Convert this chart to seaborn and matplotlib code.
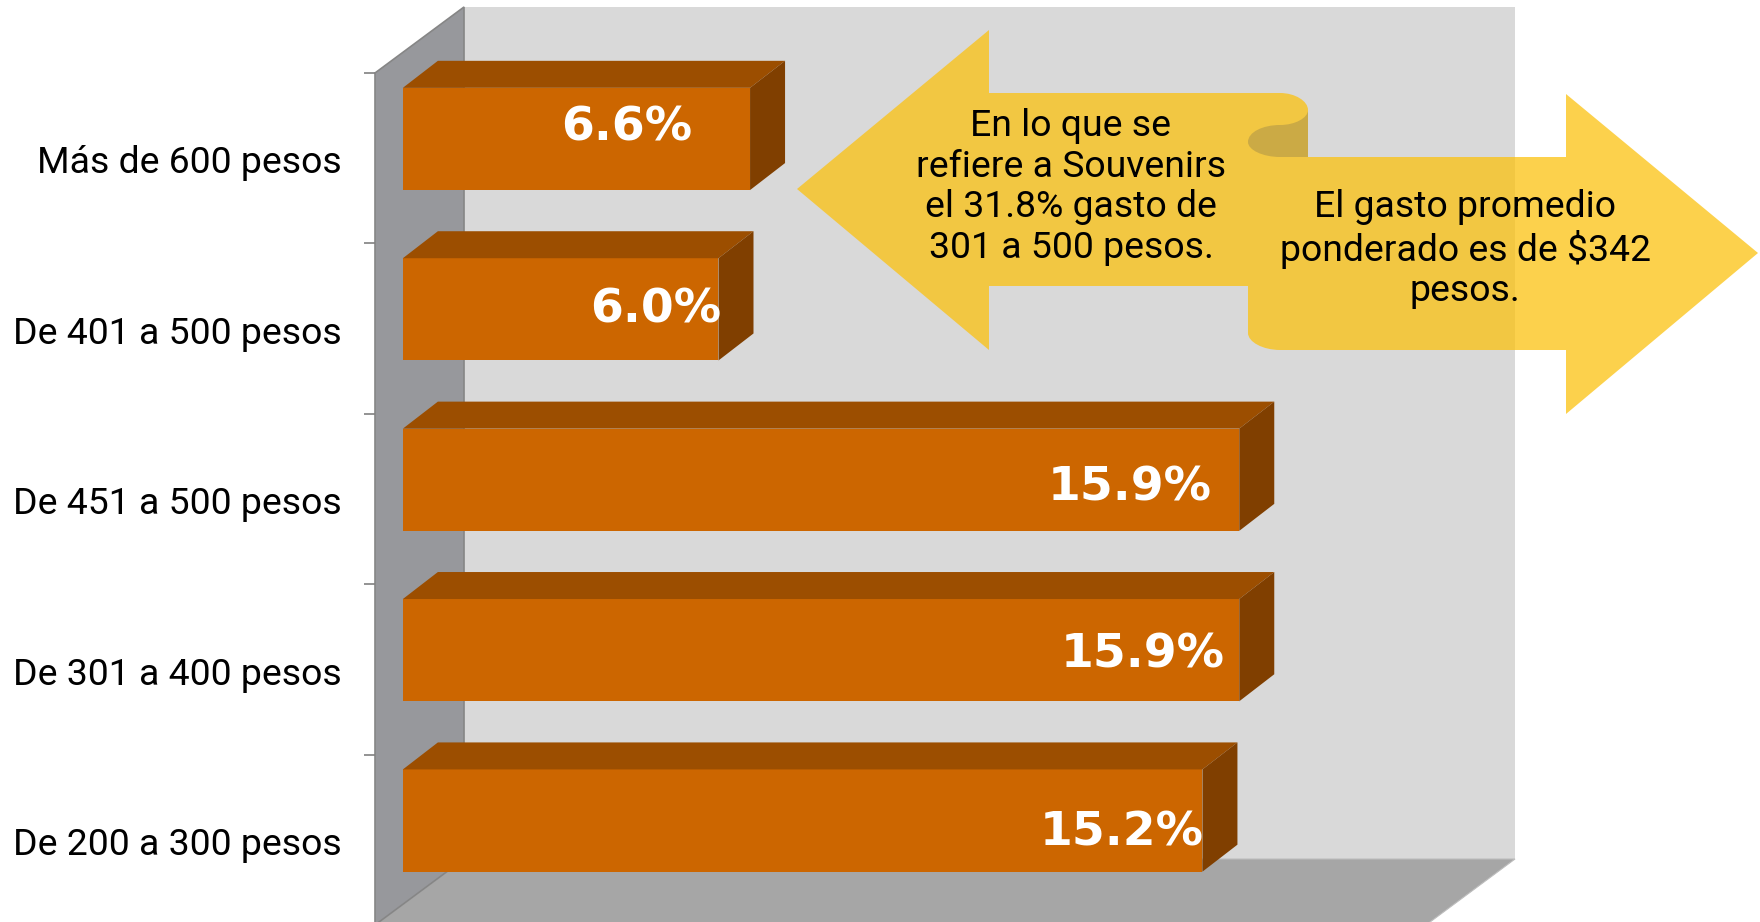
# -*- coding: utf-8 -*-
import matplotlib
matplotlib.use('Agg')
import matplotlib.pyplot as plt
from matplotlib.patches import Polygon, PathPatch
from matplotlib.path import Path
import pandas as pd
import seaborn as sns

categories = ['Más de 600 pesos', 'De 401 a 500 pesos', 'De 451 a 500 pesos',
              'De 301 a 400 pesos', 'De 200 a 300 pesos']
values = [6.6, 6.0, 15.9, 15.9, 15.2]
value_labels = ['6.6%', '6.0%', '15.9%', '15.9%', '15.2%']
note_left = 'En lo que se\nrefiere a Souvenirs\nel 31.8% gasto de\n301 a 500 pesos.'
note_right = 'El gasto promedio\nponderado es de $342\npesos.'

# desplazamiento de las etiquetas respecto al final de la barra (px, y hacia arriba)
label_offsets = [(-123, 11), (-63, -1), (-110, -8), (-97, -5), (-81, -12)]

W, H = 1760, 922
FRONT, TOP, SIDE = '#CC6600', '#9C4E00', '#803F00'
FONT = ['Roboto', 'DejaVu Sans']

sns.set_theme(style='white')
plt.rcParams['font.family'] = FONT

fig = plt.figure(figsize=(W / 100, H / 100), dpi=100, facecolor='white')


def pixel_axes(zorder):
    a = fig.add_axes([0, 0, 1, 1], zorder=zorder)
    a.set_xlim(0, W)
    a.set_ylim(H, 0)
    a.axis('off')
    a.patch.set_alpha(0)
    return a


def make_path(steps):
    verts, codes = [], []
    for code, pts in steps:
        for p in pts:
            verts.append(p)
            codes.append(code)
    return Path(verts, codes)


#%% fondo 3D
bg = pixel_axes(0)
bg.add_patch(Polygon([(464, 7), (1515, 7), (1515, 859), (464, 859)], fc='#D9D9D9', ec='none'))
bg.add_patch(Polygon([(375, 925), (464, 859), (1515, 859), (1426, 925)], fc='#A6A6A6', ec='#BDBDBD', lw=0.8))
bg.add_patch(Polygon([(375, 73), (464, 7), (464, 859), (375, 925)], fc='#97989C', ec='#868686', lw=1.2))

#%% barras
ax = fig.add_axes([375 / W, (H - 925) / H, 1051 / W, 852 / H], zorder=1)
ax.patch.set_alpha(0)
df = pd.DataFrame({'rango': categories, 'valor': values})
sns.barplot(data=df, x='valor', y='rango', order=categories, color=FRONT,
            saturation=1, width=0.6, edgecolor='none', linewidth=0, ax=ax)
ax.set_xlim(-0.53, 19.45)
# las barras quedan un poco arriba del centro de cada banda (efecto 3D)
y_top = -0.387
ax.set_ylim(y_top + 5, y_top)
ax.set_xlabel('')
ax.set_ylabel('')
ax.set_xticks([])
sns.despine(ax=ax, left=True, bottom=True)

ax.set_yticks([i + y_top for i in range(len(categories))])
ax.set_yticklabels([])
ax.set_yticks([i + 0.12 for i in range(len(categories))], labels=categories, minor=True)
ax.tick_params(axis='y', which='major', length=8, width=1.2, color='#808080', left=True)
ax.tick_params(axis='y', which='minor', length=0, pad=24, labelsize=26.9, labelcolor='black')

# caras superior y lateral de cada barra
px_x = 1051 / (19.45 + 0.53)
px_y = 852 / 5
dx, dy = 35 / px_x, 27 / px_y
for bar in list(ax.patches):
    x0, y0 = bar.get_x(), bar.get_y()
    x1, y1 = x0 + bar.get_width(), y0 + bar.get_height()
    ax.add_patch(Polygon([(x0, y0), (x0 + dx, y0 - dy), (x1 + dx, y0 - dy), (x1, y0)],
                         fc=TOP, ec='none', clip_on=False))
    ax.add_patch(Polygon([(x1, y0), (x1 + dx, y0 - dy), (x1 + dx, y1 - dy), (x1, y1)],
                         fc=SIDE, ec='none', clip_on=False))

for i, (v, lab, off) in enumerate(zip(values, value_labels, label_offsets)):
    ax.annotate(lab, xy=(v, i), xytext=off, textcoords='offset pixels',
                ha='center', va='center', color='white', fontsize=34, fontweight='bold',
                family='DejaVu Sans', zorder=5)

#%% flechas
top = pixel_axes(2)
M, L, C4 = Path.MOVETO, Path.LINETO, Path.CURVE4
arrow = [
    (M, [(797, 189)]), (L, [(989, 30), (989, 93), (1280, 93)]),
    (C4, [(1295, 93), (1308, 101), (1308, 110)]),
    (L, [(1308, 157), (1566, 157), (1566, 94), (1758, 253), (1566, 414), (1566, 350), (1280, 350)]),
    (C4, [(1263, 350), (1248, 342), (1248, 333)]),
    (L, [(1248, 286), (989, 286), (989, 350), (797, 189)]),
]
top.add_patch(PathPatch(make_path(arrow), fc='#FCC10E', ec='none', alpha=0.74))
fold = [
    (M, [(1308, 110)]),
    (C4, [(1308, 118), (1295, 125), (1280, 125)]),
    (C4, [(1263, 125), (1248, 132), (1248, 142)]),
    (C4, [(1248, 150), (1263, 157), (1280, 157)]),
    (L, [(1308, 157), (1308, 110)]),
]
top.add_patch(PathPatch(make_path(fold), fc='#CBAA45', ec='none'))

top.text(1071, 187, note_left, ha='center', va='center', fontsize=26.9,
         linespacing=1.16, color='black')
top.text(1465, 249, note_right, ha='center', va='center', fontsize=26.9,
         linespacing=1.16, color='black')

fig.savefig('out.png', dpi=100)
